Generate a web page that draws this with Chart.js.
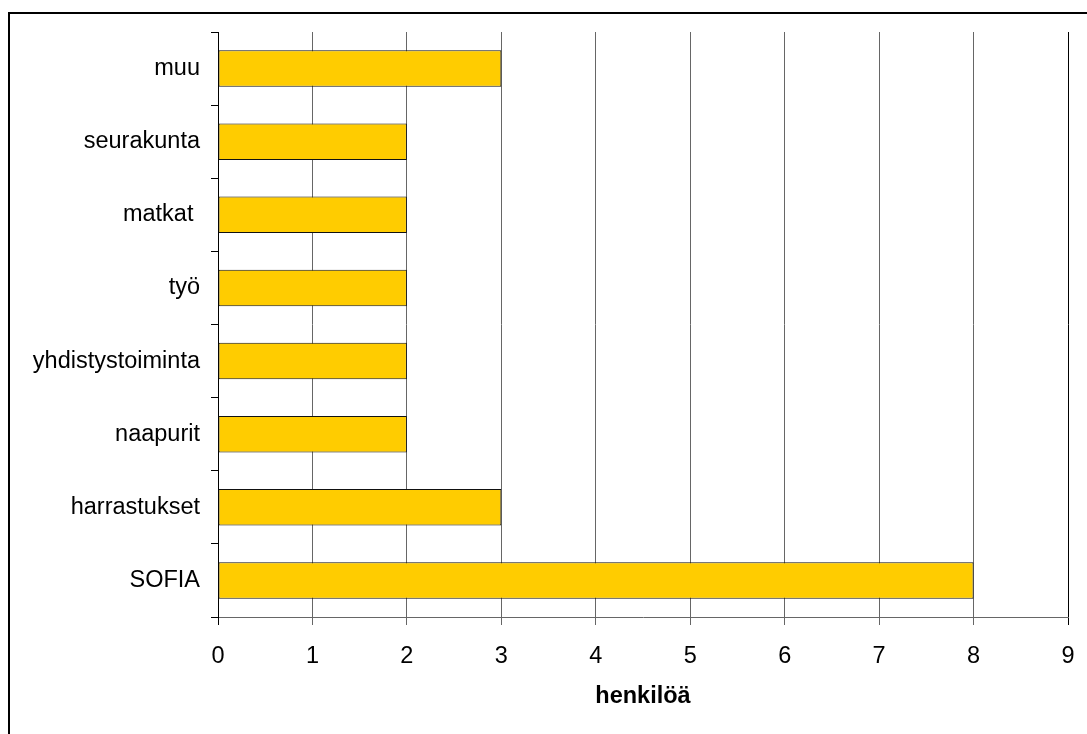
<!DOCTYPE html>
<html>
<head>
<meta charset="utf-8">
<script src="https://cdn.jsdelivr.net/npm/chart.js@4/dist/chart.umd.min.js"></script>
<style>
  html, body { margin: 0; padding: 0; background: #fff; overflow: hidden; }
  #kehys {
    position: absolute; left: 8px; top: 12px; width: 1200px; height: 900px;
    border-left: 2px solid #000; border-top: 2px solid #000;
  }
  canvas { position: absolute; left: 0; top: 0; }
</style>
</head>
<body>
<div id="kehys"></div>
<canvas id="pylvaat" width="1087" height="734"></canvas>
<script>
// Mistä tuttavat ovat peräisin
const luokat = ['muu', 'seurakunta', 'matkat ', 'työ', 'yhdistystoiminta', 'naapurit', 'harrastukset', 'SOFIA'];
const henkiloita = [3, 2, 2, 2, 2, 2, 3, 8];
const asteikko = [0, 1, 2, 3, 4, 5, 6, 7, 8, 9];

const fontti = "'Liberation Sans', Arial, sans-serif";

// Reunaviivat mustina, muu ruudukko harmaana
function viivanVari(ctx) {
    const v = ctx.tick ? ctx.tick.value : null;
    return (v === asteikko[0] || v === asteikko[asteikko.length - 1]) ? '#000' : '#666';
}

new Chart(document.getElementById('pylvaat').getContext('2d'), {
    type: 'bar',
    data: {
        labels: luokat,
        datasets: [{
            data: henkiloita,
            backgroundColor: '#FFCC00',
            borderColor: '#111',
            borderWidth: 1,
            borderSkipped: false,
            categoryPercentage: 1,
            barPercentage: 0.5
        }]
    },
    options: {
        indexAxis: 'y',
        responsive: false,
        animation: false,
        layout: { padding: { top: 32, right: 19, left: 0, bottom: 0 } },
        plugins: { legend: { display: false }, tooltip: { enabled: false } },
        scales: {
            x: {
                min: asteikko[0],
                max: asteikko[asteikko.length - 1],
                afterBuildTicks: function(scale) {
                    scale.ticks = asteikko.map(v => ({ value: v }));
                },
                afterFit: function(scale) {
                    scale.height = 117;
                    // viimeinen luku saa ulottua reunan yli
                    scale.paddingRight = 0;
                    scale.paddingLeft = 0;
                },
                ticks: {
                    color: '#000',
                    font: { family: fontti, size: 23.5 },
                    padding: 17,
                    maxRotation: 0
                },
                grid: {
                    color: viivanVari,
                    tickColor: viivanVari,
                    tickLength: 8,
                    lineWidth: 1
                },
                border: { color: '#666', width: 1 },
                title: {
                    display: true,
                    text: 'henkilöä',
                    color: '#000',
                    font: { family: fontti, size: 23.5, weight: 'bold' },
                    padding: { top: 0, bottom: 23 }
                }
            },
            y: {
                afterFit: function(scale) { scale.width = 218; },
                ticks: {
                    color: '#000',
                    font: { family: fontti, size: 23.5 },
                    padding: 11
                },
                grid: {
                    offset: true,
                    drawOnChartArea: false,
                    tickLength: 7,
                    tickColor: '#000'
                },
                border: { color: '#000', width: 1 }
            }
        }
    }
});
</script>
</body>
</html>
